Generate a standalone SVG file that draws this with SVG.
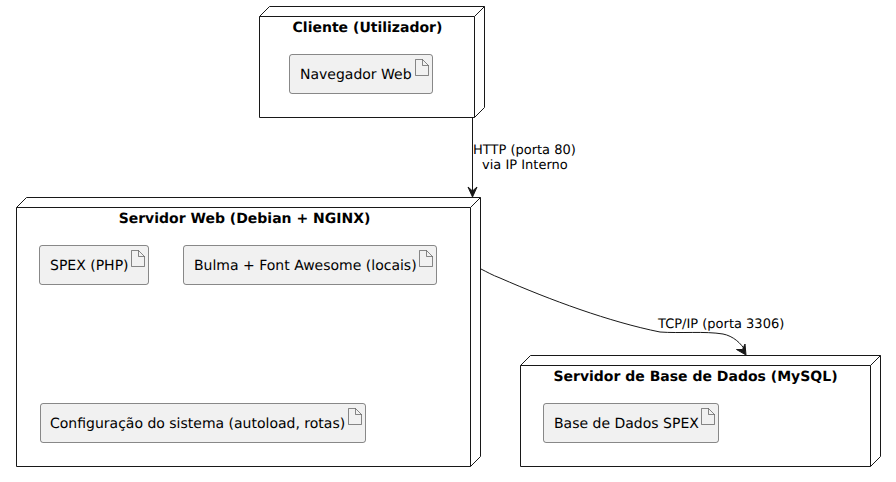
<svg xmlns="http://www.w3.org/2000/svg" width="896" height="482" viewBox="0 0 896 482">
<style>
text{font-family:"DejaVu Sans",sans-serif;fill:#000;text-rendering:geometricPrecision}
.t{font-size:14px;font-weight:bold;text-anchor:middle}
.a{font-size:14px}
.l{font-size:13px}
.n{fill:#fff;stroke:#181818;stroke-width:1}
.b{fill:#f1f1f1;stroke:#181818;stroke-width:.5}
.i{fill:#f1f1f1;stroke:#181818;stroke-width:.5}
.c{fill:none;stroke:#181818;stroke-width:1}
.h{fill:#181818;stroke:#181818;stroke-width:1}
</style>
<rect width="896" height="482" fill="#fff"/>
<g id="cliente">
<path class="n" d="M259.500 16.500 L269.500 6.500 L484.500 6.500 L484.500 107.500 L474.500 117.500 L259.500 117.500 Z"/>
<path class="c" d="M474.500 117.500 L474.500 16.500 L259.500 16.500 M474.500 16.500 L484.500 6.500"/>
<text class="t" x="367.500" y="32">Cliente (Utilizador)</text>
</g>
<g id="navegador">
<rect class="b" x="289.500" y="54.500" width="143" height="39" rx="2.500"/>
<path class="i" d="M415.500 59.500 V75.500 H428.500 V65.500 L422.500 59.500 Z M422.500 59.500 V65.500 H428.500"/>
<text class="a" x="300" y="79">Navegador Web</text>
</g>
<g id="web">
<path class="n" d="M16.500 207.500 L26.500 197.500 L480.500 197.500 L480.500 456.500 L470.500 466.500 L16.500 466.500 Z"/>
<path class="c" d="M470.500 466.500 L470.500 207.500 L16.500 207.500 M470.500 207.500 L480.500 197.500"/>
<text class="t" x="244.500" y="223">Servidor Web (Debian + NGINX)</text>
</g>
<g id="spex">
<rect class="b" x="39.500" y="245.500" width="109" height="39" rx="2.500"/>
<path class="i" d="M131.500 250.500 V266.500 H144.500 V256.500 L138.500 250.500 Z M138.500 250.500 V256.500 H144.500"/>
<text class="a" x="50" y="270">SPEX (PHP)</text>
</g>
<g id="bulma">
<rect class="b" x="183.500" y="245.500" width="253" height="39" rx="2.500"/>
<path class="i" d="M419.500 250.500 V266.500 H432.500 V256.500 L426.500 250.500 Z M426.500 250.500 V256.500 H432.500"/>
<text class="a" x="194" y="270">Bulma + Font Awesome (locais)</text>
</g>
<g id="config">
<rect class="b" x="40.500" y="403.500" width="325" height="39" rx="2.500"/>
<path class="i" d="M348.500 408.500 V424.500 H361.500 V414.500 L355.500 408.500 Z M355.500 408.500 V414.500 H361.500"/>
<text class="a" x="50" y="428">Configuração do sistema (autoload, rotas)</text>
</g>
<g id="db">
<path class="n" d="M520.500 365.500 L530.500 355.500 L880.500 355.500 L880.500 456.500 L870.500 466.500 L520.500 466.500 Z"/>
<path class="c" d="M870.500 466.500 L870.500 365.500 L520.500 365.500 M870.500 365.500 L880.500 355.500"/>
<text class="t" x="695.500" y="381">Servidor de Base de Dados (MySQL)</text>
</g>
<g id="basedados">
<rect class="b" x="543.500" y="403.500" width="175" height="39" rx="2.500"/>
<path class="i" d="M701.500 408.500 V424.500 H714.500 V414.500 L708.500 408.500 Z M708.500 408.500 V414.500 H714.500"/>
<text class="a" x="554" y="428">Base de Dados SPEX</text>
</g>
<g id="connectors">
<path class="c" d="M472.500 117.500 V191"/>
<path class="h" d="M472.500 197 L468 187 L472.500 191 L477 187 Z"/>
<path class="c" d="M481 269 C487 272 492 275 500 278 C550 300 610 322 660 332 C680 333.500 705 331 723 334 C733 336 741 343 745.500 351"/>
<path class="h" d="M746 355 L736.500 349.500 L742.500 349.500 L745 344 Z"/>
<text class="l" x="473" y="154">HTTP (porta 80)</text>
<text class="l" x="482" y="169">via IP Interno</text>
<text class="l" x="658" y="328">TCP/IP (porta 3306)</text>
</g>
</svg>
